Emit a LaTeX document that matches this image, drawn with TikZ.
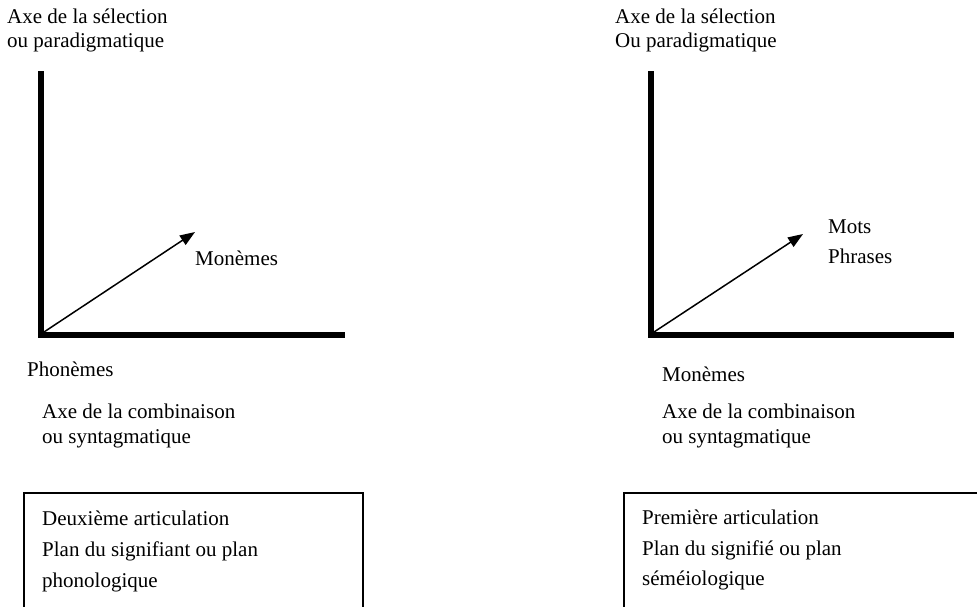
\documentclass[tikz,border=0pt]{standalone}
\usepackage{fontspec}
\setmainfont{Liberation Serif}
\usetikzlibrary{arrows.meta}
\begin{document}
\begin{tikzpicture}[x=1pt,y=-1pt,
  lbl/.style={anchor=base west,inner sep=0pt,font=\fontsize{21}{24}\selectfont},
  axisline/.style={line width=6pt,line cap=butt,line join=miter},
  dirarrow/.style={line width=1.5pt,-{Triangle[length=15pt,width=11pt]}},
  framebox/.style={line width=1.4pt}]
\useasboundingbox (0,0) rectangle (977,606);
\clip (0,0) rectangle (977,606);

% ---- left diagram: second articulation ----
\node[lbl] (lsel1) at (7,23) {Axe de la sélection};
\node[lbl] (lsel2) at (7,47) {ou paradigmatique};
\coordinate (ltop) at (41,71);
\coordinate (lorig) at (41,335);
\coordinate (lend) at (345,335);
\draw[axisline] (ltop) -- (lorig) -- (lend);
\coordinate (lfrom) at (44,332);
\coordinate (ltip) at (195,232);
\draw[dirarrow] (lfrom) -- (ltip);
\node[lbl] (lmon) at (195,265) {Monèmes};
\node[lbl] (lpho) at (27,376) {Phonèmes};
\node[lbl] (lcomb1) at (42,418) {Axe de la combinaison};
\node[lbl] (lcomb2) at (42,443) {ou syntagmatique};
\draw[framebox] (24,620) -- (24,493) -- (363,493) -- (363,620);
\node[lbl] (lbox1) at (42,525) {Deuxième articulation};
\node[lbl] (lbox2) at (42,556) {Plan du signifiant ou plan};
\node[lbl] (lbox3) at (42,587) {phonologique};

% ---- right diagram: first articulation ----
\node[lbl] (rsel1) at (615,23) {Axe de la sélection};
\node[lbl] (rsel2) at (615,47) {Ou paradigmatique};
\coordinate (rtop) at (651,71);
\coordinate (rorig) at (651,335);
\coordinate (rend) at (954,335);
\draw[axisline] (rtop) -- (rorig) -- (rend);
\coordinate (rfrom) at (654,332);
\coordinate (rtip) at (803,234);
\draw[dirarrow] (rfrom) -- (rtip);
\node[lbl] (rmots) at (828,233) {Mots};
\node[lbl] (rphr) at (828,263) {Phrases};
\node[lbl] (rmon) at (662,381) {Monèmes};
\node[lbl] (rcomb1) at (662,418) {Axe de la combinaison};
\node[lbl] (rcomb2) at (662,443) {ou syntagmatique};
\draw[framebox] (624,620) -- (624,493) -- (990,493);
\node[lbl] (rbox1) at (642,524) {Première articulation};
\node[lbl] (rbox2) at (642,555) {Plan du signifié ou plan};
\node[lbl] (rbox3) at (642,585) {séméiologique};
\end{tikzpicture}
\end{document}
